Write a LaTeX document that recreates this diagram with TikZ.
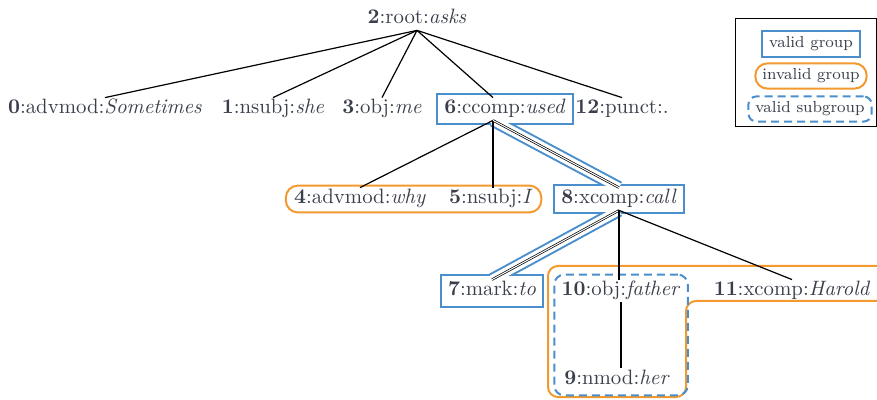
\documentclass[tikz,border=0pt]{standalone}
\usepackage{xcolor}
\usepackage{tikz}
\usetikzlibrary{fit,backgrounds,calc}
\definecolor{grpblue}{HTML}{4A8FCB}
\definecolor{grporange}{HTML}{F39A2E}
\definecolor{toktext}{HTML}{3A3F4B}

\begin{document}
\begin{tikzpicture}[x=0.5pt,y=-0.5pt,
    tok/.style={inner sep=0.5pt,text=toktext,font=\fontsize{10.4}{12}\selectfont,text height=7.5pt,text depth=2.5pt},
    dep/.style={draw=black,line width=0.6pt},
    headdep/.style={draw=black,line width=1.2pt},
    groupdep/.style={draw=black,line width=0.35pt,double=white,double distance=0.5pt},
    valid/.style={draw=grpblue,line width=1pt,fill=white},
    invalid/.style={draw=grporange,line width=1pt,rounded corners=6pt},
    validsub/.style={draw=grpblue,line width=1pt,dash pattern=on 4pt off 2.5pt,rounded corners=5pt},
    corridor/.style={draw=grpblue,line width=6.5pt},
    corridorin/.style={draw=white,line width=4.5pt},
    legtext/.style={text=toktext,font=\fontsize{8}{10}\selectfont,text height=5.8pt,text depth=2pt,inner xsep=3.5pt,inner ysep=2.4pt}]
    \useasboundingbox (0,0) rectangle (877,400);

    % tokens
    \node[tok] (n2) at (417,19) {\textbf{2}:root:\textit{asks}};
    \node[tok] (n0) at (105,109) {\textbf{0}:advmod:\textit{Sometimes}};
    \node[tok] (n1) at (273,109) {\textbf{1}:nsubj:\textit{she}};
    \node[tok] (n3) at (382,109) {\textbf{3}:obj:\textit{me}};
    \node[tok] (n6) at (505,109) {\textbf{6}:ccomp:\textit{used}};
    \node[tok] (n12) at (622,109) {\textbf{12}:punct:.};
    \node[tok] (n4) at (360,199) {\textbf{4}:advmod:\textit{why}};
    \node[tok] (n5) at (491,199) {\textbf{5}:nsubj:\textit{I}};
    \node[tok] (n8) at (619,199) {\textbf{8}:xcomp:\textit{call}};
    \node[tok] (n7) at (492,291) {\textbf{7}:mark:\textit{to}};
    \node[tok] (n10) at (621,291) {\textbf{10}:obj:\textit{father}};
    \node[tok] (n11) at (792,291) {\textbf{11}:xcomp:\textit{Harold}};
    \node[tok] (n9) at (617,379) {\textbf{9}:nmod:\textit{her}};
    % head points of 6 sit left of its centre
    \coordinate (n6top) at ($(n6.north)+(-12,0)$);
    \coordinate (n6bot) at ($(n6.south)+(-12,0)$);

    % groups
    \begin{scope}[on background layer]
        \draw[corridor] (n6bot) -- (n8.north);
        \draw[corridor] (n8.south) -- (n7.north);
        \node[valid,fit=(n6),inner xsep=3pt,inner ysep=2pt] (g6) {};
        \node[valid,fit=(n8),inner xsep=3pt,inner ysep=1.5pt] (g8) {};
        \node[valid,fit=(n7),inner xsep=3pt,inner ysep=2.5pt] (g7) {};
        \draw[corridorin] (n6bot) -- (n8.north);
        \draw[corridorin] (n8.south) -- (n7.north);
        \node[invalid,fit=(n4)(n5),inner xsep=3.5pt,inner ysep=1pt] (g45) {};
        \draw[invalid,rounded corners=5pt] (890,266) -- (548,266) -- (548,397) -- (686,397) -- (686,301) -- (890,301);
        \node[validsub,fit=(n10)(n9),inner xsep=3pt,inner ysep=2.5pt] (g109) {};
    \end{scope}

    % dependencies
    \draw[dep] (n2.south) -- (n0.north);
    \draw[dep] (n2.south) -- (n1.north);
    \draw[dep] (n2.south) -- (n3.north);
    \draw[dep] (n2.south) -- (n6top);
    \draw[dep] (n2.south) -- (n12.north);
    \draw[dep] (n6bot) -- (n4.north);
    \draw[headdep] (n6bot) -- (n6bot |- n5.north);
    \draw[groupdep] (n6bot) -- (n8.north);
    \draw[groupdep] (n8.south) -- (n7.north);
    \draw[headdep] (n8.south) -- (n8.south |- n10.north);
    \draw[dep] (n8.south) -- (n11.north);
    \draw[headdep] (n10.south) -- (n10.south |- n9.north);

    % legend
    \node[draw=black,line width=0.5pt,minimum width=70.5pt,minimum height=54pt,inner sep=0pt] (legend) at (805.5,73) {};
    \node[valid,legtext] (lvalid) at (811,44) {valid group};
    \node[invalid,legtext] (linvalid) at (811,76) {invalid group};
    \node[validsub,legtext,rounded corners=4pt] (lsub) at (810,109) {valid subgroup};
\end{tikzpicture}
\end{document}
